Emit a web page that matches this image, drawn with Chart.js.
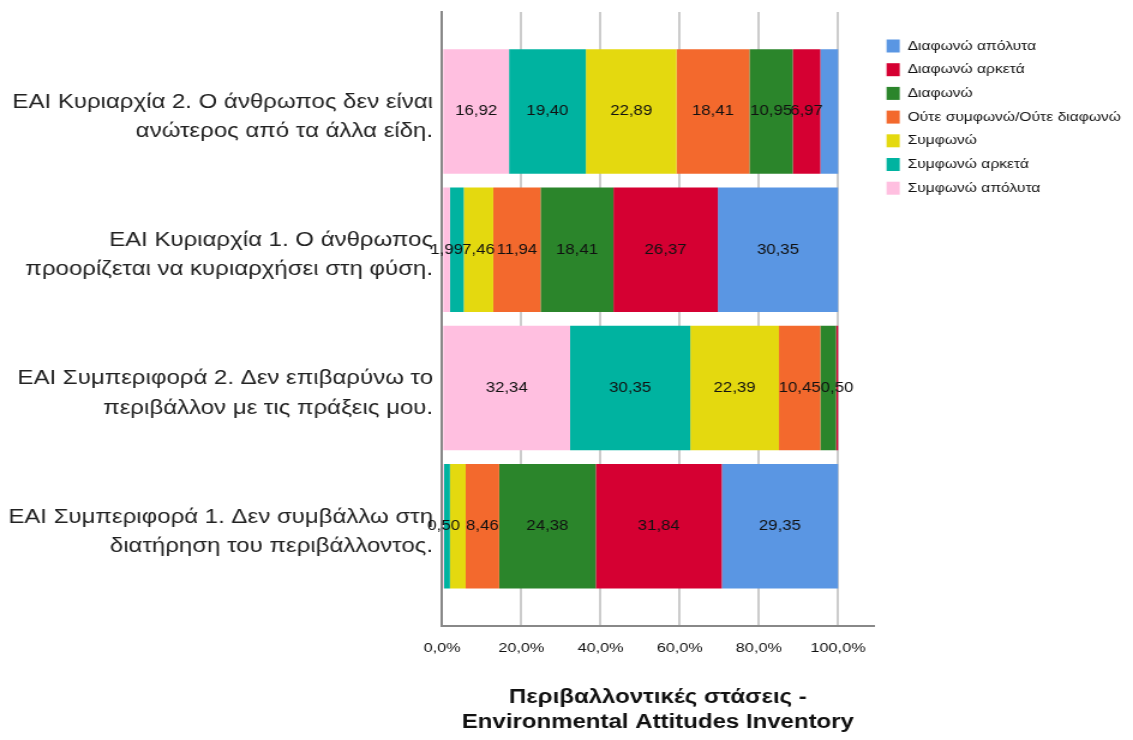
<!doctype html>
<html lang="el">
<head>
    <meta charset="utf-8">
    <title>Environmental Attitudes Inventory</title>
    <script src="https://cdn.jsdelivr.net/npm/chart.js"></script>
    <style>
        body {
            margin: 0;
            background-color: white;
        }

        /* the original export is stretched sideways, so the canvas is drawn narrow and widened */
        #myChart {
            width: 1133px;
            height: 740px;
        }
    </style>
</head>

<body>
    <canvas id="myChart" width="944" height="740" style="width:1133px;height:740px"></canvas>

    <script>
        // categories (top to bottom), each one split on two lines
        const categories = [
            ['ΕΑΙ Κυριαρχία 2. Ο άνθρωπος δεν είναι', 'ανώτερος από τα άλλα είδη.'],
            ['ΕΑΙ Κυριαρχία 1. Ο άνθρωπος', 'προορίζεται να κυριαρχήσει στη φύση.'],
            ['ΕΑΙ Συμπεριφορά 2. Δεν επιβαρύνω το', 'περιβάλλον με τις πράξεις μου.'],
            ['ΕΑΙ Συμπεριφορά 1. Δεν συμβάλλω στη', 'διατήρηση του περιβάλλοντος.']
        ];

        // series, in stacking order from the left
        const seriesNames = ['Συμφωνώ απόλυτα', 'Συμφωνώ αρκετά', 'Συμφωνώ',
            'Ούτε συμφωνώ/Ούτε διαφωνώ', 'Διαφωνώ', 'Διαφωνώ αρκετά', 'Διαφωνώ απόλυτα'];
        const seriesColors = ['#ffbfe0', '#00b3a0', '#e4d90f', '#f3692d', '#2b852b', '#d50032', '#5a96e3'];

        const agreeFully = [16.92, 1.99, 32.34, 0.50];
        const agreeMuch = [19.40, 3.48, 30.35, 1.49];
        const agree = [22.89, 7.46, 22.39, 3.98];
        const neutral = [18.41, 11.94, 10.45, 8.46];
        const disagree = [10.95, 18.41, 3.98, 24.38];
        const disagreeMuch = [6.97, 26.37, 0.50, 31.84];
        const disagreeFully = [4.48, 30.35, 0.00, 29.35];
        const seriesValues = [agreeFully, agreeMuch, agree, neutral, disagree, disagreeMuch, disagreeFully];

        const xTicks = [0, 20, 40, 60, 80, 100];
        const xTitle = ['Περιβαλλοντικές στάσεις -', 'Environmental Attitudes Inventory'];

        const FONT = "'Liberation Sans', Arial, sans-serif";

        const datasets = seriesNames.map((name, s) => ({
            label: name,
            data: seriesValues[s].map((v, i) => ({ x: v, y: i })),
            backgroundColor: seriesColors[s],
            borderWidth: 0,
            barPercentage: 0.9,
            categoryPercentage: 1
        }));

        // value labels in the middle of the segments, skipped where they would collide
        const segmentLabels = {
            id: 'segmentLabels',
            afterDatasetsDraw(chart) {
                const ctx = chart.ctx;
                ctx.save();
                ctx.font = '14px ' + FONT;
                ctx.fillStyle = '#111';
                ctx.textAlign = 'center';
                ctx.textBaseline = 'middle';
                categories.forEach((c, i) => {
                    let lastRight = -Infinity;
                    chart.data.datasets.forEach((ds, d) => {
                        const v = seriesValues[d][i];
                        if (!v) return;
                        const el = chart.getDatasetMeta(d).data[i];
                        const text = v.toFixed(2).replace('.', ',');
                        const w = ctx.measureText(text).width;
                        const cx = (el.x + el.base) / 2;
                        if (cx - w / 2 < lastRight - 3) return;
                        ctx.fillText(text, cx, el.y);
                        lastRight = cx + w / 2;
                    });
                });
                ctx.restore();
            }
        };

        const config = {
            type: 'bar',
            data: { datasets: datasets },
            options: {
                indexAxis: 'y',
                responsive: false,
                animation: false,
                layout: {
                    padding: { top: 12, bottom: 5, left: 0, right: 0 }
                },
                plugins: {
                    legend: {
                        position: 'right',
                        align: 'start',
                        reverse: true,
                        title: {
                            display: true,
                            text: ' ',
                            padding: 0,
                            font: { family: FONT, size: 14, lineHeight: 1.2 }
                        },
                        labels: {
                            boxWidth: 11,
                            boxHeight: 13,
                            padding: 10.7,
                            color: '#111',
                            font: { family: FONT, size: 13 }
                        }
                    },
                    tooltip: { enabled: false }
                },
                scales: {
                    x: {
                        type: 'linear',
                        stacked: true,
                        min: 0,
                        max: 109,
                        afterBuildTicks: (scale) => {
                            scale.ticks = xTicks.map(v => ({ value: v }));
                        },
                        ticks: {
                            color: '#111',
                            padding: 14,
                            font: { family: FONT, size: 13.5 },
                            callback: (v) => v.toFixed(1).replace('.', ',') + '%'
                        },
                        grid: {
                            color: '#cccccc',
                            lineWidth: 2,
                            drawTicks: false
                        },
                        border: { display: true, color: '#888', width: 2 },
                        title: {
                            display: true,
                            text: xTitle,
                            color: '#111',
                            padding: { top: 15, bottom: 0 },
                            font: { family: FONT, size: 20, weight: 'bold', lineHeight: 1.25 }
                        }
                    },
                    y: {
                        type: 'linear',
                        stacked: true,
                        reverse: true,
                        offset: false,
                        min: -0.72,
                        max: 3.72,
                        afterBuildTicks: (scale) => {
                            scale.ticks = categories.map((c, i) => ({ value: i }));
                        },
                        afterFit: (scale) => {
                            scale.width = 368.3;
                            scale.paddingTop = 0;
                            scale.paddingBottom = 0;
                        },
                        ticks: {
                            color: '#222',
                            padding: 7.5,
                            labelOffset: 5.5,
                            font: { family: FONT, size: 20, lineHeight: 1.47 },
                            callback: (v) => categories[v]
                        },
                        grid: { display: false, drawTicks: false, offset: false },
                        border: { display: true, color: '#888', width: 2 }
                    }
                }
            },
            plugins: [segmentLabels]
        };

        const myChart = new Chart(document.getElementById('myChart'), config);
    </script>
</body>
</html>
